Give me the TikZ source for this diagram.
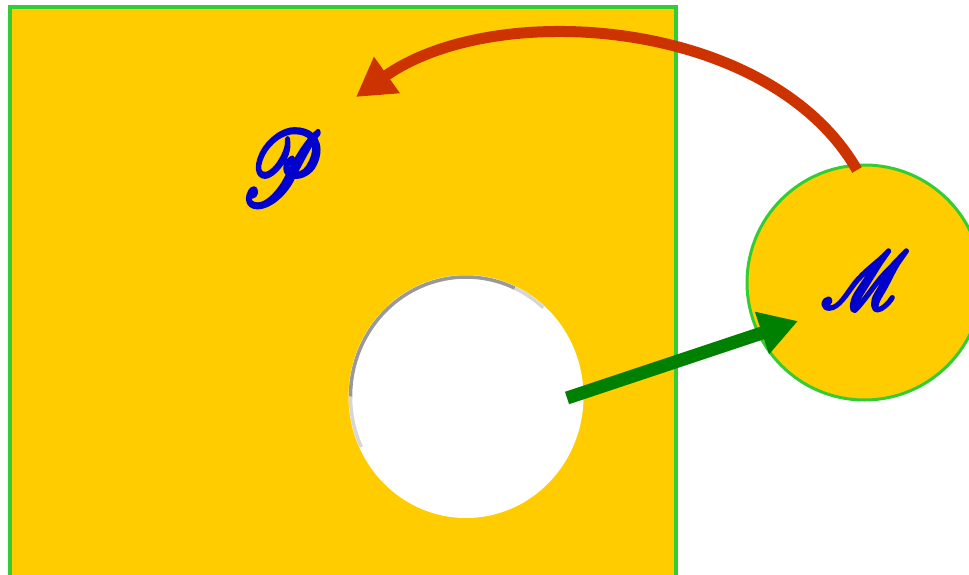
\documentclass[tikz,border=0pt]{standalone}
\usepackage{mathrsfs}
\usetikzlibrary{arrows.meta}
\definecolor{sqyellow}{RGB}{255,204,0}
\definecolor{bordergreen}{RGB}{51,204,51}
\definecolor{arrowgreen}{RGB}{0,128,0}
\definecolor{arrowred}{RGB}{204,51,0}
\definecolor{labelblue}{RGB}{0,0,204}
\definecolor{rimgray}{RGB}{153,153,153}
\newcommand{\boldglyph}[1]{\special{pdf:code 2 Tr 0.45 w 1 j}#1\special{pdf:code 0 Tr}}
\tikzset{
  plate/.style={fill=sqyellow, draw=bordergreen, line width=4},
  ball/.style={circle, fill=sqyellow, draw=bordergreen, line width=3, minimum size=235, inner sep=0},
  letter/.style={text=labelblue, inner sep=0},
  redarrow/.style={draw=arrowred, line width=11, -{Triangle[length=38,width=42]}},
  greenarrow/.style={draw=arrowgreen, line width=13, -{Triangle[length=38,width=42]}},
}
\begin{document}
\begin{tikzpicture}[x=1pt,y=-1pt]
\useasboundingbox (0,0) rectangle (969,575);
\clip (0,0) rectangle (969,575);
% plate
\draw[plate] (10,7) rectangle (675.5,620);
\node[inner sep=0] (plate) at (342.75,313) {};
% hole
\coordinate (hole) at (466,396.5);
\fill[white] (hole) ellipse [x radius=117.5, y radius=121.5];
\draw[rimgray!40, line width=3.5] (hole) ++(-205:115.5 and 119.5) arc[start angle=-205, end angle=-180, x radius=115.5, y radius=119.5];
\draw[rimgray, line width=3.5] (hole) ++(-180:115.5 and 119.5) arc[start angle=-180, end angle=-65, x radius=115.5, y radius=119.5];
\draw[rimgray!40, line width=3.5] (hole) ++(-65:115.5 and 119.5) arc[start angle=-65, end angle=-48, x radius=115.5, y radius=119.5];
% ball
\node[ball] (ball) at (864.5,282.5) {};
% labels
\node[letter, xscale=7.6, yscale=10.5] (P) at (282,168) {\boldglyph{$\mathscr{P}$}};
\node[letter, xscale=7.1, yscale=8.1] (M) at (865,280) {\boldglyph{$\mathscr{M}$}};
% arrows
\coordinate (rtail) at (857,170);
\coordinate (rtip) at (356,97);
\draw[redarrow] (rtail) .. controls (770,18) and (495,-2) .. (rtip);
\coordinate (gtail) at (567,398);
\coordinate (gtip) at (798,321);
\draw[greenarrow] (gtail) -- (gtip);
\end{tikzpicture}
\end{document}
